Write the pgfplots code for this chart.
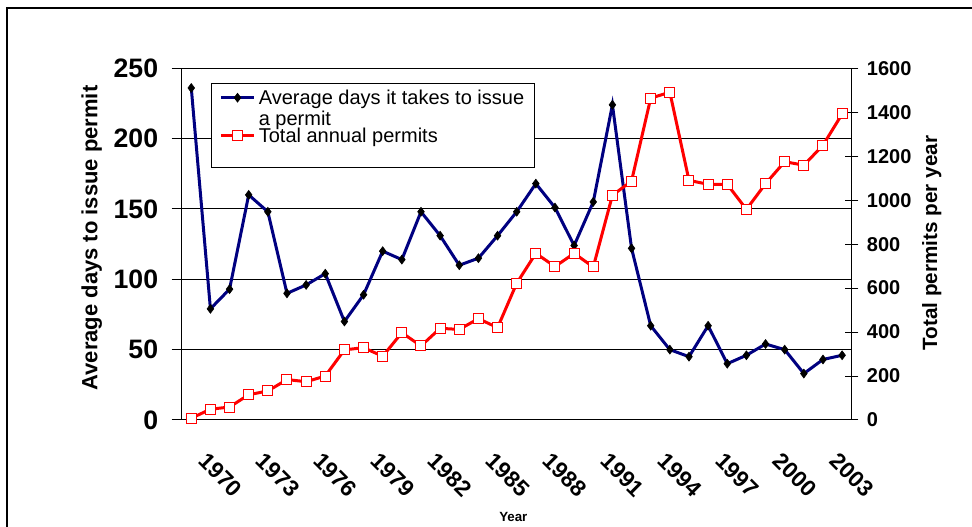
\documentclass[border=0pt]{standalone}
\usepackage{fontspec}
\setmainfont{Liberation Sans}
\usepackage{pgfplots}
\usepackage{pgfplotstable}
\pgfplotsset{compat=1.18}
\definecolor{navyb}{HTML}{000080}
\definecolor{redp}{HTML}{FF0000}

\pgfplotstableread{
year days permits
1969 236 8
1970 79 49
1971 93 59
1972 160 115
1973 148 132
1974 90 184
1975 96 174
1976 104 200
1977 70 319
1978 89 329
1979 120 290
1980 114 397
1981 148 337
1982 131 417
1983 110 412
1984 115 461
1985 131 420
1986 148 622
1987 168 758
1988 151 698
1989 124 758
1990 155 696
1991 224 1022
1992 122 1087
1993 67 1464
1994 50 1491
1995 45 1090
1996 67 1072
1997 40 1072
1998 46 958
1999 54 1075
2000 50 1175
2001 33 1159
2002 43 1250
2003 46 1392
}\datatable

\begin{document}
\begin{tikzpicture}
\path[use as bounding box] (0,0) rectangle (729pt,395.25pt);
\draw[line width=1.5pt] (5.25pt,-5pt) -- (5.25pt,389.6pt) -- (740pt,389.6pt);
\begin{axis}[
  at={(136.28pt,80.25pt)}, anchor=south west,
  scale only axis, width=502.5pt, height=263.8pt,
  xmin=1968.5, xmax=2003.5, ymin=0, ymax=250,
  axis x line*=bottom, axis y line*=left,
  axis line style={line width=0.75pt, -},
  ytick={0,50,...,250},
  ymajorgrids, grid style={black, line width=0.75pt},
  xtick=\empty,
  minor xtick={1968.5,1969.5,...,2003.5},
  minor tick length=5.25pt, major tick length=7.5pt,
  tick align=outside,
  tick style={black, line width=0.75pt},
  /pgf/number format/assume math mode=true,
  yticklabel style={font=\fontsize{20}{20}\selectfont\bfseries, inner sep=0pt, xshift=-10pt},
  ylabel={Average days to issue permit},
  ylabel style={font=\fontsize{16.5}{16.5}\selectfont\bfseries, at={(rel axis cs:-0.1343,0.5175)}, anchor=center},
  xlabel={Year},
  xlabel style={font=\fontsize{10}{10}\selectfont\bfseries, at={(rel axis cs:0.495,-0.2758)}, anchor=center},
  clip=false,
]
\addplot[navyb, line width=2.25pt, mark=diamond*, mark size=3.3pt, mark options={fill=black, draw=black, line width=0.5pt}] table[x=year,y=days]{\datatable};
\end{axis}
\begin{axis}[
  at={(136.28pt,80.25pt)}, anchor=south west,
  scale only axis, width=502.5pt, height=263.8pt,
  xmin=1968.5, xmax=2003.5, ymin=0, ymax=1600,
  axis x line*=bottom, axis y line*=right,
  axis line style={line width=0.75pt, -},
  x axis line style={draw=none},
  xtick={1970,1973,...,2003},
  xticklabels={1970,1973,1976,1979,1982,1985,1988,1991,1994,1997,2000,2003},
  xtick style={draw=none},
  xticklabel style={font=\fontsize{17}{17}\selectfont\bfseries, yshift=-18.45pt, xshift=-1.5pt, rotate=-45, anchor=north west, inner sep=0pt},
  ytick={0,200,...,1600},
  tick align=center, major tick length=10pt,
  ytick style={black, line width=0.75pt},
  /pgf/number format/assume math mode=true,
  /pgf/number format/1000 sep={},
  yticklabel style={font=\fontsize{15}{15}\selectfont\bfseries, inner sep=0pt, xshift=6.25pt},
  ylabel={Total permits per year},
  ylabel style={font=\fontsize{15.5}{15.5}\selectfont\bfseries, at={(rel axis cs:1.1194,0.503)}, anchor=center},
  clip=false,
  legend image code/.code={\draw[mark repeat=2,mark phase=2,yshift=5.4pt,#1] plot coordinates {(0pt,0pt) (12.4pt,0pt) (24.75pt,0pt)};},
  legend cell align=left,
  legend style={at={(rel axis cs:0.0437,0.957)}, anchor=north west, draw=black, line width=0.75pt, fill=white,
    font=\fontsize{15}{15.5}\selectfont, cells={anchor=base west},
    nodes={inner sep=0pt, text height=10.9pt, text depth=14.35pt},
    inner xsep=6pt, inner ysep=4.85pt, row sep=2.8pt, column sep=2.5pt},
]
\addlegendimage{navyb, line width=2.25pt, mark=diamond*, mark size=3.3pt, mark options={fill=black, draw=black, line width=0.5pt}}
\addlegendentry{\parbox[t]{201pt}{\raggedright Average days it takes to issue\\a permit}}
\addplot[redp, line width=2.25pt, mark=square*, mark size=3.75pt, mark options={fill=white, draw=redp, line width=0.75pt}] table[x=year,y=permits]{\datatable};
\addlegendentry{Total annual permits}
\end{axis}
\end{tikzpicture}
\end{document}
